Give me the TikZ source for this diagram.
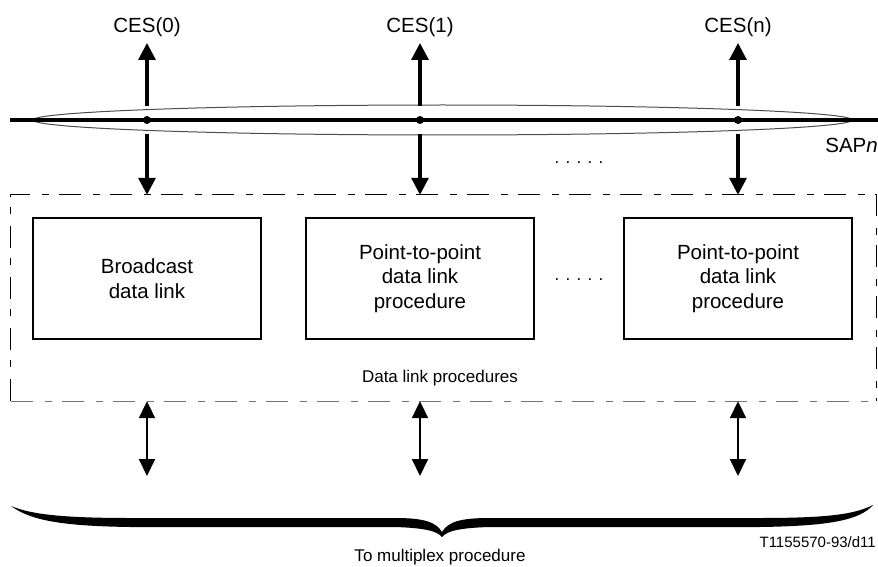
\documentclass[tikz,border=0pt]{standalone}
\usepackage{fontspec}
\setmainfont{Liberation Sans}
\usetikzlibrary{arrows.meta}

\begin{document}
\begin{tikzpicture}[x=1pt, y=-1pt,
  every node/.style={font=\fontsize{17}{23}\selectfont, align=center},
  big/.style={font=\fontsize{20.5}{24.5}\selectfont},
  dot/.style={circle, fill, inner sep=0pt, minimum size=8pt},
  bus/.style={line width=3.2pt},
  busarrow/.style={line width=3.2pt, -{Triangle[length=17pt, width=17pt]}},
  lowarrow/.style={line width=2pt, {Triangle[length=17pt, width=16pt]}-{Triangle[length=17pt, width=16pt]}},
  proc/.style={draw, big, line width=1.2pt, minimum width=228pt, minimum height=121pt, inner sep=0pt},
  dlp/.style={line width=1pt, dash pattern=on 22pt off 12pt on 7pt off 10pt}]

  \useasboundingbox (0,0) rectangle (878,567);

  %% SAP with its oval
  \draw[line width=1pt, color=black!70] (442.5,120) ellipse [x radius=409.5, y radius=15];
  \coordinate (west) at (10,120);
  \coordinate (east) at (878,120);
  \draw[bus] (west) -- (east);
  \node[big, anchor=east, inner sep=0pt] (sap) at (878,145) {SAP\textit{n}};

  \node[dot] (p0) at (147,120) {};
  \node[dot] (p1) at (420,120) {};
  \node[dot] (pn) at (738,120) {};

  \node[big, anchor=south, inner xsep=2pt, inner ysep=6.5pt] (ces0) at (147,43) {CES(0)};
  \node[big, anchor=south, inner xsep=2pt, inner ysep=6.5pt] (ces1) at (420,43) {CES(1)};
  \node[big, anchor=south, inner xsep=2pt, inner ysep=6.5pt] (cesn) at (738,43) {CES(n)};

  \node (dotsa) at (579,163) {. . . . .};

  %% data link procedures
  \node[minimum width=865pt, minimum height=206pt, inner sep=0pt] (dl) at (443.5,298) {};
  \draw[dlp] (dl.south west) -- (dl.north west) -- (dl.north east) -- (dl.south east);
  \draw[dlp, color=black!55] (dl.south west) -- (dl.south east);
  \node (dltext) at (440,378) {Data link procedures};

  \node[proc] (b0) at (147,278.5) {Broadcast\\data link};
  \node[proc] (b1) at (420,278.5) {Point-to-point\\data link\\procedure};
  \node[proc] (bn) at (738,278.5) {Point-to-point\\data link\\procedure};
  \node (dotsb) at (579,280) {. . . . .};

  %% up and down from the SAP
  \coordinate (u0) at (147,106);
  \coordinate (u1) at (420,106);
  \coordinate (un) at (738,106);
  \coordinate (d0) at (147,134);
  \coordinate (d1) at (420,134);
  \coordinate (dn) at (738,134);
  \draw[busarrow] (u0) -- (ces0);
  \draw[busarrow] (u1) -- (ces1);
  \draw[busarrow] (un) -- (cesn);
  \draw[busarrow] (d0) -- (d0 |- dl.north);
  \draw[busarrow] (d1) -- (d1 |- dl.north);
  \draw[busarrow] (dn) -- (dn |- dl.north);

  %% down to the multiplex procedure
  \coordinate (m0) at (147,476);
  \coordinate (m1) at (420,476);
  \coordinate (mn) at (738,476);
  \draw[lowarrow] (m0 |- dl.south) -- (m0);
  \draw[lowarrow] (m1 |- dl.south) -- (m1);
  \draw[lowarrow] (mn |- dl.south) -- (mn);

  %% the brace
  \fill (11,506) .. controls (30,520) and (60,526) .. (130,527) -- (395,527)
    .. controls (425,528) and (437,531) .. (442,537)
    .. controls (447,531) and (459,528) .. (489,527) -- (760,527)
    .. controls (830,526) and (860,520) .. (873,505)
    .. controls (855,514) and (830,518) .. (760,518) -- (489,518)
    .. controls (460,518) and (448,522) .. (442,532)
    .. controls (436,522) and (424,518) .. (395,518) -- (130,518)
    .. controls (60,518) and (30,514) .. (11,506) -- cycle;
  \node (tomux) at (440,557) {To multiplex procedure};
  \node[anchor=east, inner sep=0pt, font=\fontsize{15}{17}\selectfont] (fig) at (876,542) {T1155570-93/d11};
\end{tikzpicture}
\end{document}
